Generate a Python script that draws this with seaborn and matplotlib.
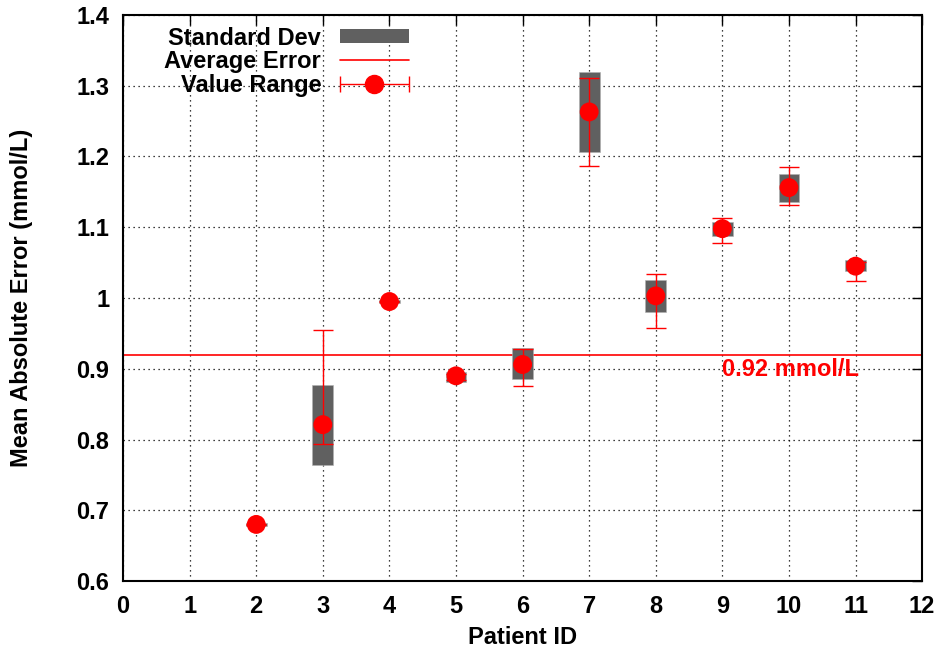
import matplotlib
matplotlib.use("Agg")
import matplotlib.pyplot as plt
import seaborn as sns
import numpy as np
import pandas as pd
from matplotlib.patches import Rectangle
from matplotlib.legend_handler import HandlerErrorbar

# ---- data ----
patients = [2, 3, 4, 5, 6, 7, 8, 9, 10, 11]
mean_err = [0.680, 0.821, 0.995, 0.890, 0.906, 1.263, 1.003, 1.098, 1.156, 1.045]
sd_low = [0.678, 0.764, 0.993, 0.881, 0.885, 1.206, 0.980, 1.088, 1.136, 1.038]
sd_high = [0.682, 0.877, 0.997, 0.896, 0.930, 1.320, 1.025, 1.108, 1.175, 1.053]
range_min = [0.679, 0.794, 0.994, 0.884, 0.875, 1.186, 0.958, 1.078, 1.132, 1.024]
range_max = [0.681, 0.955, 0.996, 0.892, 0.928, 1.311, 1.034, 1.113, 1.185, 1.051]
average_error = 0.92
x_ticks = list(range(0, 13))
y_ticks = [0.6, 0.7, 0.8, 0.9, 1.0, 1.1, 1.2, 1.3, 1.4]
y_tick_labels = ["0.6", "0.7", "0.8", "0.9", "1", "1.1", "1.2", "1.3", "1.4"]

df = pd.DataFrame({"patient": patients, "mean": mean_err,
                   "sd_low": sd_low, "sd_high": sd_high,
                   "rmin": range_min, "rmax": range_max})

sns.set_style("white")
plt.rcParams["font.family"] = ["Liberation Sans", "DejaVu Sans"]
plt.rcParams["font.weight"] = "bold"
plt.rcParams["text.color"] = "black"
plt.rcParams["axes.labelcolor"] = "black"
plt.rcParams["xtick.color"] = "black"
plt.rcParams["ytick.color"] = "black"

FS = 17

fig = plt.figure(figsize=(9.4, 6.51), dpi=100)
ax = fig.add_axes([0.1309, 0.1075, 0.981 - 0.1309, 0.977 - 0.1075])

gray = "#606060"
red = "#ff0000"

# standard deviation boxes
ax.bar(df["patient"], df["sd_high"] - df["sd_low"], bottom=df["sd_low"],
       width=0.31, color=gray, edgecolor="#b0b0b0", linewidth=0.4, zorder=3)

# average error line
avg_line = ax.axhline(average_error, color=red, lw=1.2, zorder=2)

# value range error bars
yerr = np.vstack([df["mean"] - df["rmin"], df["rmax"] - df["mean"]])
ax.errorbar(df["patient"], df["mean"], yerr=yerr, fmt="none", ecolor=red,
            elinewidth=1.0, capsize=7.5, capthick=1.0, zorder=4)
sns.scatterplot(data=df, x="patient", y="mean", ax=ax, color=red, s=185,
                edgecolor="none", zorder=5, legend=False)

# legend proxy for value range (errorbar with marker), placed off-screen
leg_eb = ax.errorbar([-10], [0], xerr=[[1], [1]], fmt="o", color=red,
                     ms=13, elinewidth=1.0, capsize=6, capthick=1.0)

ax.text(9.0, 0.899, "0.92 mmol/L", color=red, fontsize=FS, fontweight="bold",
        ha="left", va="center", zorder=6)

ax.set_xlim(0, 12)
ax.set_ylim(0.6, 1.4)
ax.set_xticks(x_ticks)
ax.set_yticks(y_ticks)
ax.set_yticklabels(y_tick_labels)
ax.tick_params(direction="in", length=7, width=1, labelsize=FS, top=True, right=True,
               colors="black")
ax.tick_params(axis="x", pad=10)
ax.tick_params(axis="y", pad=10)
for lab in ax.get_xticklabels() + ax.get_yticklabels():
    lab.set_fontweight("bold")
ax.grid(True, color="black", linestyle=(0, (1, 3)), linewidth=0.9)
ax.set_axisbelow(True)
for sp in ax.spines.values():
    sp.set_color("black")
    sp.set_linewidth(1.5)

ax.set_xlabel("Patient ID", fontsize=FS, fontweight="bold", color="black")
ax.set_ylabel("Mean Absolute Error (mmol/L)", fontsize=FS, fontweight="bold", color="black")
ax.xaxis.label.set_va("center")
ax.yaxis.label.set_va("center")
ax.xaxis.set_label_coords(0.5, -0.099)
ax.yaxis.set_label_coords(-0.127, 0.5)

sd_handle = Rectangle((0, 0), 1, 1, facecolor=gray, edgecolor="none")
leg = ax.legend([sd_handle, avg_line, leg_eb], ["Standard Dev", "Average Error", "Value Range"],
                loc="upper left", bbox_to_anchor=(0.04, 0.996), markerfirst=False,
                frameon=False, fontsize=FS, handlelength=2.9, handleheight=0.55,
                labelspacing=0.02, borderaxespad=0.0, handletextpad=0.8,
                numpoints=1,
                handler_map={type(leg_eb): HandlerErrorbar(xerr_size=1.45)})
for t in leg.get_texts():
    t.set_fontweight("bold")
    t.set_color("black")

fig.savefig("out.png", dpi=100)
